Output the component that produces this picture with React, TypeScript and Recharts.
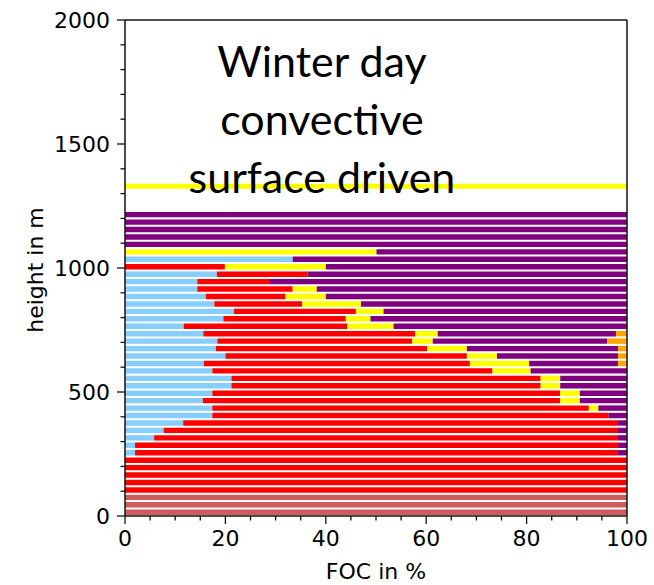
import { BarChart, Bar, XAxis, YAxis, ReferenceLine } from 'recharts';

// height bins (m, bin centres), bottom to top
const heights = [
  15, 45, 75, 105, 135, 165, 195, 225, 255, 285, 315, 345, 375, 405, 435, 465, 495, 525, 555, 585,
  615, 645, 675, 705, 735, 765, 795, 825, 855, 885, 915, 945, 975, 1005, 1035, 1065, 1095, 1125,
  1155, 1185, 1215
];

// FOC in % per class, same order as heights
const indianRed = [
  100, 100, 100, 0, 0, 0, 0, 0, 0, 0, 0, 0, 0, 0, 0, 0, 0, 0, 0, 0, 0, 0, 0, 0, 0, 0, 0, 0, 0, 0, 0,
  0, 0, 0, 0, 0, 0, 0, 0, 0, 0
];
const lightBlue = [
  0, 0, 0, 0, 0, 0, 0, 0, 2.0, 2.0, 5.8, 7.7, 11.6, 17.4, 17.4, 15.5, 17.4, 21.2, 21.2, 17.4, 15.7,
  20.0, 18.1, 18.4, 15.6, 11.7, 19.6, 21.7, 17.8, 16.1, 14.4, 14.4, 18.3, 0, 33.4, 0, 0, 0, 0, 0, 0
];
const red = [
  0, 0, 0, 100, 100, 100, 100, 100, 96.2, 96.2, 92.4, 90.5, 86.6, 78.9, 75.0, 71.2, 69.3, 61.6, 61.6,
  55.8, 53.0, 48.1, 42.1, 38.8, 42.2, 32.6, 24.4, 24.3, 17.5, 15.9, 19.0, 14.3, 18.1, 19.9, 0, 0, 0,
  0, 0, 0, 0
];
const yellow = [
  0, 0, 0, 0, 0, 0, 0, 0, 0, 0, 0, 0, 0, 0, 1.9, 3.9, 3.9, 3.9, 3.9, 7.6, 11.8, 6.0, 7.9, 4.1, 4.5,
  9.2, 4.9, 5.5, 11.7, 8.0, 4.8, 0, 0, 20.1, 0, 50.1, 0, 0, 0, 0, 0
];
const purple = [
  0, 0, 0, 0, 0, 0, 0, 0, 1.8, 1.8, 1.8, 1.8, 1.8, 3.7, 5.7, 9.4, 9.4, 13.3, 13.3, 19.2, 17.7, 24.1,
  30.1, 34.8, 35.5, 46.5, 51.1, 48.5, 53.0, 60.0, 61.8, 71.3, 63.6, 60.0, 66.6, 49.9, 100, 100, 100,
  100, 100
];
const orange = [
  0, 0, 0, 0, 0, 0, 0, 0, 0, 0, 0, 0, 0, 0, 0, 0, 0, 0, 0, 0, 1.8, 1.8, 1.8, 3.9, 2.2, 0, 0, 0, 0, 0,
  0, 0, 0, 0, 0, 0, 0, 0, 0, 0, 0
];

const xTicks = [0, 5, 10, 15, 20, 25, 30, 35, 40, 45, 50, 55, 60, 65, 70, 75, 80, 85, 90, 95, 100];
const yTicks = [
  0, 100, 200, 300, 400, 500, 600, 700, 800, 900, 1000, 1100, 1200, 1300, 1400, 1500, 1600, 1700,
  1800, 1900, 2000
];
const titleLines = ['Winter day', 'convective', 'surface driven'];
const blhLine = 1330;

const data = heights.map((h, i) => ({
  h,
  ind: indianRed[i],
  lb: lightBlue[i],
  red: red[i],
  yel: yellow[i],
  pur: purple[i],
  ora: orange[i]
}));

const tickFont = '"DejaVu Sans", sans-serif';
const axisColor = '#111';

const YTick = (props: any) => {
  const { x, y, payload } = props;
  const major = payload.value % 500 === 0;
  const len = major ? 8 : 4.5;
  return (
    <g>
      <line x1={x} x2={x - len} y1={y} y2={y} stroke={axisColor} strokeWidth={1.3} />
      {major && (
        <text x={x - 15} y={y} dy='0.36em' textAnchor='end' fontSize={22} fontFamily={tickFont} fill='#000'>
          {payload.value}
        </text>
      )}
    </g>
  );
};

const XTick = (props: any) => {
  const { x, y, payload } = props;
  const major = payload.value % 20 === 0;
  const len = major ? 8 : 4.5;
  return (
    <g>
      <line x1={x} x2={x} y1={y} y2={y + len} stroke={axisColor} strokeWidth={1.3} />
      {major && (
        <text x={x} y={y + 30} textAnchor='middle' fontSize={22} fontFamily={tickFont} fill='#000'>
          {payload.value}
        </text>
      )}
    </g>
  );
};

const App = () => (
  <div style={{ position: 'absolute', left: 0, top: 0, width: 654, height: 585, background: '#fff' }}>
    <BarChart
      width={654}
      height={585}
      data={data}
      layout='vertical'
      margin={{ top: 20, right: 27, left: 0, bottom: 0 }}
      barSize={5.4}
    >
      <XAxis
        type='number'
        domain={[0, 100]}
        ticks={xTicks}
        interval={0}
        height={69}
        tickSize={0}
        tickMargin={0}
        tickLine={false}
        tick={XTick}
        axisLine={{ stroke: axisColor, strokeWidth: 1.5 }}
      />
      <YAxis
        type='number'
        dataKey='h'
        domain={[0, 2000]}
        ticks={yTicks}
        interval={0}
        reversed
        width={125}
        tickSize={0}
        tickMargin={0}
        tickLine={false}
        tick={YTick}
        axisLine={{ stroke: axisColor, strokeWidth: 1.5 }}
      />
      <Bar dataKey='ind' stackId='a' fill='#CD5C5C' isAnimationActive={false} />
      <Bar dataKey='lb' stackId='a' fill='#87CEFA' isAnimationActive={false} />
      <Bar dataKey='red' stackId='a' fill='#FF0000' isAnimationActive={false} />
      <Bar dataKey='yel' stackId='a' fill='#FFFF00' isAnimationActive={false} />
      <Bar dataKey='pur' stackId='a' fill='#800080' isAnimationActive={false} />
      <Bar dataKey='ora' stackId='a' fill='#FFA500' isAnimationActive={false} />
      <ReferenceLine y={blhLine} stroke='#FFFF00' strokeWidth={5} />
      <ReferenceLine y={2000} stroke={axisColor} strokeWidth={1.5} />
      <ReferenceLine x={100} stroke={axisColor} strokeWidth={1.5} />
    </BarChart>
    <svg
      width={654}
      height={585}
      style={{ position: 'absolute', left: 0, top: 0, pointerEvents: 'none' }}
    >
      {titleLines.map((t, i) => (
        <text key={t} x={322} y={77 + i * 58} textAnchor='middle' fontSize={43} fontFamily='Lato, sans-serif' fill='#000'>
          {t}
        </text>
      ))}
      <text
        x={35}
        y={270}
        transform='rotate(-90, 35, 270)'
        textAnchor='middle'
        dy='0.36em'
        fontSize={22}
        fontFamily={tickFont}
        fill='#000'
      >
        height in m
      </text>
      <text x={376} y={579} textAnchor='middle' fontSize={22} fontFamily={tickFont} fill='#000'>
        FOC in %
      </text>
    </svg>
  </div>
);

export default App;
